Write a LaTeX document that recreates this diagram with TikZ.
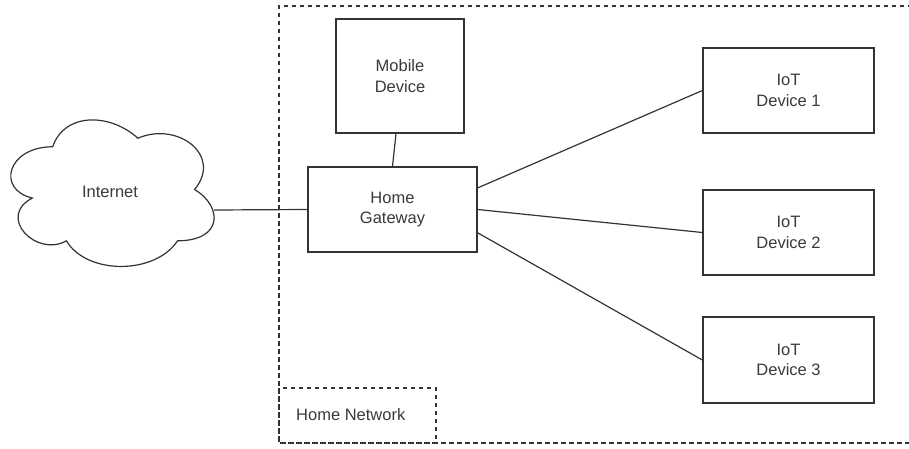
\documentclass[tikz,border=0pt]{standalone}
\usepackage{fontspec}
\setmainfont{Liberation Sans}
\usetikzlibrary{calc}
\definecolor{ln}{HTML}{333333}
\definecolor{tx}{HTML}{3A3A3A}
\begin{document}
\begin{tikzpicture}[x=1pt,y=-1pt,
  box/.style={draw=ln, line width=1.3pt, fill=white, text=tx, align=center, inner sep=0pt,
    font=\fontsize{16.5}{20.5}\selectfont},
  conn/.style={draw=ln, line width=1.2pt},
  dsh/.style={draw=ln, line width=1.2pt, dash pattern=on 4.5pt off 3.5pt},
  lbl/.style={text=tx, font=\fontsize{16.5}{20.5}\selectfont, inner sep=0pt}]
\useasboundingbox (0,0) rectangle (909,449);
% home network region
\draw[dsh] (920,6) -- (279,6) -- (279,443) -- (920,443);
\draw[dsh] (279,388) rectangle (436,443);
\node[lbl, anchor=west] (hn) at (296,415) {Home Network};
% cloud
\draw[draw=ln, line width=1.2pt, fill=white]
  (52.75,146.75) .. controls (7.35,146.75) and (-4,189.5) .. (32.32,198.05)
  .. controls (-4,216.86) and (36.86,257.9) .. (66.37,240.8)
  .. controls (86.8,275) and (154.9,275) .. (177.6,240.8)
  .. controls (223,240.8) and (223,206.6) .. (194.6,189.5)
  .. controls (223,155.3) and (177.6,121.1) .. (137.9,138.2)
  .. controls (109.5,112.55) and (64.1,112.55) .. (52.75,146.75) -- cycle;
\node[lbl] (inet) at (110,192) {Internet};
\coordinate (cloudR) at (214,210);
% nodes
\node[box, minimum width=128pt, minimum height=114pt] (mob) at (400,76) {Mobile\\Device};
\node[box, minimum width=169pt, minimum height=85pt] (gw) at (392.5,209.5) {Home\\Gateway};
\node[box, minimum width=171pt, minimum height=85pt] (iot1) at (788.5,90.5) {IoT\\Device 1};
\node[box, minimum width=171pt, minimum height=85pt] (iot2) at (788.5,232.5) {IoT\\Device 2};
\node[box, minimum width=171pt, minimum height=86pt] (iot3) at (788.5,360) {IoT\\Device 3};
% connectors
\draw[conn] (cloudR) -- (gw.west);
\draw[conn] ([xshift=-4pt]mob.south) -- (gw.north);
\draw[conn] ($(gw.north east)!0.25!(gw.south east)$) -- (iot1.west);
\draw[conn] (gw.east) -- (iot2.west);
\draw[conn] ($(gw.north east)!0.77!(gw.south east)$) -- (iot3.west);
\end{tikzpicture}
\end{document}
